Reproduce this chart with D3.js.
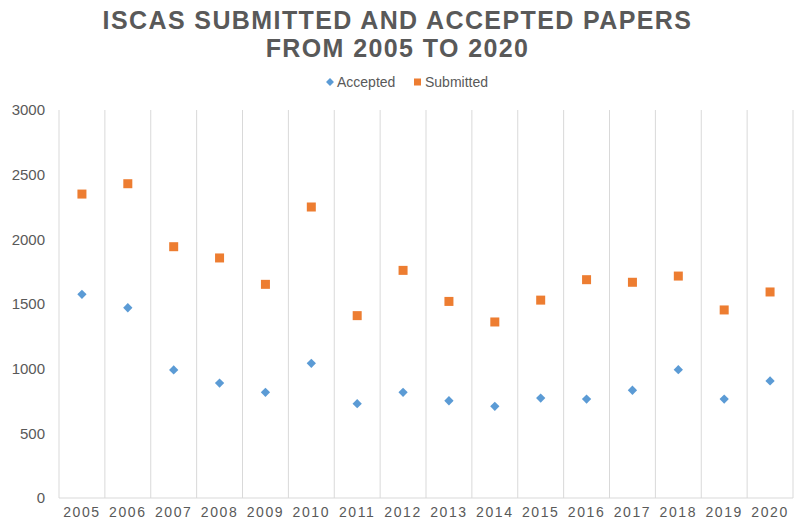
<!DOCTYPE html>
<html>
<head>
<meta charset="utf-8">
<script src="https://cdn.jsdelivr.net/npm/d3@7"></script>
<style>
    body { margin: 0; background: #fff; }
    text { font-family: "Liberation Sans", Arial, sans-serif; fill: #595959; }
</style>
</head>
<body>
<div id="chart"></div>
<script>
// data
let years = ["2005", "2006", "2007", "2008", "2009", "2010", "2011", "2012",
             "2013", "2014", "2015", "2016", "2017", "2018", "2019", "2020"];
let accepted = [1575, 1471, 990, 889, 817, 1041, 729, 817, 752, 709, 773, 765, 833, 992, 765, 905];
let submitted = [2350, 2430, 1943, 1856, 1652, 2250, 1410, 1760, 1520, 1361, 1530, 1688, 1668, 1716, 1454, 1593];
let yTicks = [0, 500, 1000, 1500, 2000, 2500, 3000];

let width = 795, height = 524;
let margin = {top: 110, right: 2, bottom: 26, left: 59};

let svg = d3.select("#chart").append("svg")
    .attr("width", width)
    .attr("height", height);

// title
let title = svg.append("text")
    .attr("text-anchor", "middle")
    .attr("font-weight", "bold")
    .attr("font-size", "25px")
    .attr("letter-spacing", "1.4px");
title.append("tspan").attr("x", width / 2).attr("y", 29).text("ISCAS SUBMITTED AND ACCEPTED PAPERS");
title.append("tspan").attr("x", width / 2).attr("y", 57).text("FROM 2005 TO 2020");

// scales
let x = d3.scaleBand()
    .domain(years)
    .range([margin.left, width - margin.right]);

let y = d3.scaleLinear()
    .domain([0, 3000])
    .range([height - margin.bottom, margin.top]);

// vertical gridlines between categories
let edges = years.map(d => x(d)).concat([x.range()[1]]);
svg.append("g")
    .selectAll("line")
    .data(edges)
    .enter().append("line")
    .attr("x1", d => d).attr("x2", d => d)
    .attr("y1", y(3000)).attr("y2", y(0))
    .attr("stroke", "#d9d9d9")
    .attr("stroke-width", 1);

// baseline
svg.append("line")
    .attr("x1", x.range()[0]).attr("x2", x.range()[1])
    .attr("y1", y(0)).attr("y2", y(0))
    .attr("stroke", "#d9d9d9");

// y axis labels
let yAxis = d3.axisLeft(y).tickValues(yTicks).tickFormat(d3.format("d")).tickSize(0).tickPadding(14);
svg.append("g")
    .attr("transform", `translate(${margin.left}, 0)`)
    .call(yAxis)
    .call(g => g.select(".domain").remove())
    .selectAll("text")
    .attr("font-size", "15px")
    .attr("font-family", "Liberation Sans, Arial, sans-serif")
    .attr("fill", "#595959");

// x axis labels
let xAxis = d3.axisBottom(x).tickSize(0).tickPadding(9);
svg.append("g")
    .attr("transform", `translate(0, ${y(0)})`)
    .call(xAxis)
    .call(g => g.select(".domain").remove())
    .selectAll("text")
    .attr("font-size", "14px")
    .attr("letter-spacing", "1.6px")
    .attr("font-family", "Liberation Sans, Arial, sans-serif")
    .attr("fill", "#595959");

let cx = d => x(d) + x.bandwidth() / 2;

// submitted squares
svg.append("g")
    .selectAll("rect")
    .data(years)
    .enter().append("rect")
    .attr("x", (d, i) => cx(d) - 4.5)
    .attr("y", (d, i) => y(submitted[i]) - 4.5)
    .attr("width", 9).attr("height", 9)
    .attr("fill", "#ed7d31");

// accepted diamonds
let diamond = d3.symbol().type(d3.symbolDiamond2).size(55);
svg.append("g")
    .selectAll("path")
    .data(years)
    .enter().append("path")
    .attr("d", diamond)
    .attr("transform", (d, i) => `translate(${cx(d)}, ${y(accepted[i])})`)
    .attr("fill", "#5b9bd5");

// legend
let legend = svg.append("g").attr("transform", "translate(0, 82)");
legend.append("path")
    .attr("d", d3.symbol().type(d3.symbolDiamond2).size(40))
    .attr("transform", "translate(330, 0)")
    .attr("fill", "#5b9bd5");
legend.append("text")
    .attr("x", 337).attr("y", 5)
    .attr("font-size", "14px")
    .text("Accepted");
legend.append("rect")
    .attr("x", 414).attr("y", -3.5)
    .attr("width", 7).attr("height", 7)
    .attr("fill", "#ed7d31");
legend.append("text")
    .attr("x", 425).attr("y", 5)
    .attr("font-size", "14px")
    .text("Submitted");
</script>
</body>
</html>
